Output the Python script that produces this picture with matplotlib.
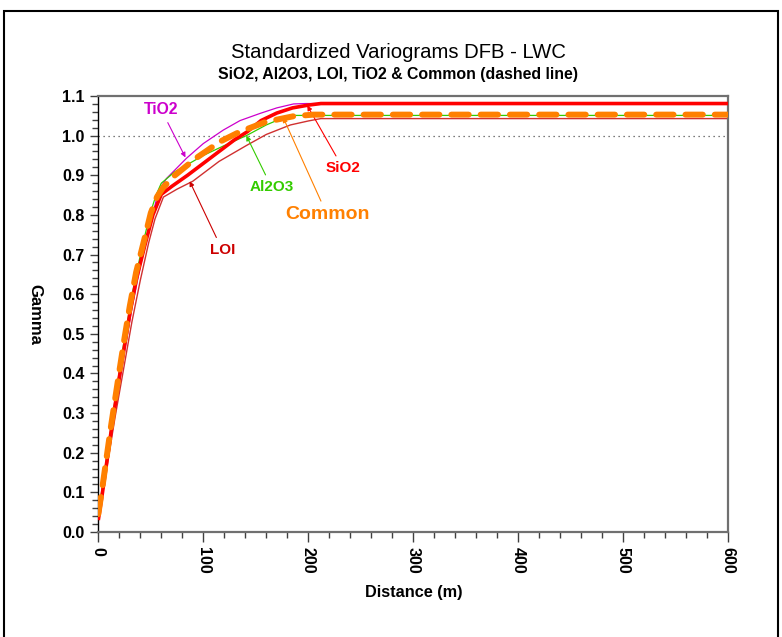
import matplotlib
matplotlib.use("Agg")
import matplotlib.pyplot as plt
from matplotlib.patches import Rectangle
from matplotlib.ticker import MultipleLocator

# ── data ──────────────────────────────────────────────────────────────────────
sio2_x = [0, 4, 8, 12, 16, 20, 25, 30, 36, 44, 52, 60, 70, 85, 100, 115, 130,
          142, 155, 170, 185, 200, 212, 600]
sio2_y = [0.03, 0.10, 0.175, 0.25, 0.32, 0.39, 0.47, 0.55, 0.635, 0.72, 0.80,
          0.852, 0.872, 0.90, 0.93, 0.96, 0.99, 1.01, 1.038, 1.057, 1.07,
          1.077, 1.081, 1.081]

common_x = [0, 4, 8, 12, 16, 20, 25, 30, 36, 44, 50, 56, 62, 73, 93, 116, 135,
            160, 186, 205, 600]
common_y = [0.045, 0.115, 0.19, 0.265, 0.335, 0.405, 0.49, 0.57, 0.655, 0.74,
            0.805, 0.846, 0.87, 0.90, 0.943, 0.985, 1.01, 1.035, 1.049, 1.053,
            1.053]

tio2_x = [0, 8, 16, 24, 32, 40, 48, 55, 60, 65, 84, 100, 119, 135, 154, 170,
          186, 198, 600]
tio2_y = [0.03, 0.17, 0.31, 0.44, 0.565, 0.67, 0.76, 0.835, 0.872, 0.892,
          0.943, 0.98, 1.014, 1.038, 1.056, 1.07, 1.08, 1.081, 1.081]

al2o3_x = [0, 8, 16, 25, 33, 41, 49, 55, 60, 73, 100, 120, 141, 160, 176, 186,
           600]
al2o3_y = [0.045, 0.19, 0.335, 0.49, 0.61, 0.71, 0.80, 0.85, 0.88, 0.909,
           0.95, 0.975, 1.0, 1.027, 1.045, 1.051, 1.051]

loi_x = [0, 8, 16, 24, 32, 40, 48, 54, 62, 75, 90, 115, 141, 160, 183, 200,
         212, 600]
loi_y = [0.03, 0.16, 0.29, 0.41, 0.53, 0.635, 0.73, 0.79, 0.845, 0.865, 0.885,
         0.935, 0.975, 1.003, 1.027, 1.037, 1.043, 1.043]

# label text, colour, size, text position, arrow tip (data coords)
labels = [
    ("TiO2",   "#cc00cc", 11.3, (60, 1.065),  (83, 0.945)),
    ("Al2O3",  "#33cc00", 11, (165, 0.87),  (141, 1.0)),
    ("SiO2",   "#ff0000", 11, (233, 0.918), (199, 1.076)),
    ("Common", "#ff8000", 14, (218, 0.80),  (176, 1.046)),
    ("LOI",    "#cc0000", 11, (118, 0.712), (87, 0.885)),
]

plt.rcParams["font.family"] = ["Liberation Sans", "DejaVu Sans"]

fig = plt.figure(figsize=(7.82, 6.37), dpi=100)
ax = fig.add_axes([98.3 / 782, 1 - 532 / 637, 630 / 782, 436 / 637])

# outer frame
fig.add_artist(Rectangle((3.5 / 782, -0.05), 774 / 782, 1.05 - 10.5 / 637,
                         transform=fig.transFigure, fill=False,
                         edgecolor="black", linewidth=1.5))

ax.axhline(1.0, color="#505050", linewidth=0.9, linestyle=(0, (1, 3)), zorder=1)

ax.plot(tio2_x, tio2_y, color="#cc00cc", linewidth=0.9, zorder=2)
ax.plot(al2o3_x, al2o3_y, color="#33cc00", linewidth=0.9, zorder=2)
ax.plot(loi_x, loi_y, color="#d03030", linewidth=1.0, zorder=2)
ax.plot(sio2_x, sio2_y, color="#ff0000", linewidth=2.6, zorder=3,
        solid_capstyle="butt")
ax.plot(common_x, common_y, color="#ff8000", linewidth=4.3, zorder=4,
        dashes=(2.9, 2.0), dash_capstyle="round")

for txt, col, fs, xy_text, xy_tip in labels:
    ax.annotate(txt, xy=xy_tip, xytext=xy_text, color=col, fontsize=fs,
                fontweight="bold", ha="center", va="center",
                arrowprops=dict(arrowstyle="-|>", color=col, lw=0.8,
                                mutation_scale=7, shrinkA=2, shrinkB=0))

ax.set_xlim(0, 600)
ax.set_ylim(0, 1.1)
ax.xaxis.set_major_locator(MultipleLocator(100))
ax.xaxis.set_minor_locator(MultipleLocator(20))
ax.yaxis.set_major_locator(MultipleLocator(0.1))
ax.yaxis.set_minor_locator(MultipleLocator(0.02))
ax.yaxis.set_major_formatter(plt.FormatStrFormatter("%.1f"))

ax.spines["left"].set_color("black")
ax.spines["left"].set_linewidth(1.0)
for s in ("bottom", "top", "right"):
    ax.spines[s].set_color("#707070")
    ax.spines[s].set_linewidth(1.6)

ax.tick_params(axis="y", which="major", length=6, width=1, color="#404040",
               labelsize=11.5, pad=4)
ax.tick_params(axis="y", which="minor", length=4, width=1, color="#404040")
ax.tick_params(axis="x", which="major", length=7, width=1, color="#404040",
               labelsize=11.5, labelrotation=270, pad=4)
ax.tick_params(axis="x", which="minor", length=4, width=1, color="#404040")
for lab in ax.get_xticklabels() + ax.get_yticklabels():
    lab.set_fontweight("bold")

ax.set_xlabel("Distance (m)", fontsize=11.7, fontweight="bold", labelpad=8)
ax.set_ylabel("Gamma", fontsize=12, fontweight="bold", rotation=270)
ax.yaxis.set_label_coords(-0.112, 0.5)

fig.text(398 / 782, 1 - 53 / 637, "Standardized Variograms DFB - LWC",
         ha="center", va="center", fontsize=14.6)
fig.text(398 / 782, 1 - 75 / 637, "SiO2, Al2O3, LOI, TiO2 & Common (dashed line)",
         ha="center", va="center", fontsize=11.4, fontweight="bold")

fig.savefig("out.png", dpi=100)
